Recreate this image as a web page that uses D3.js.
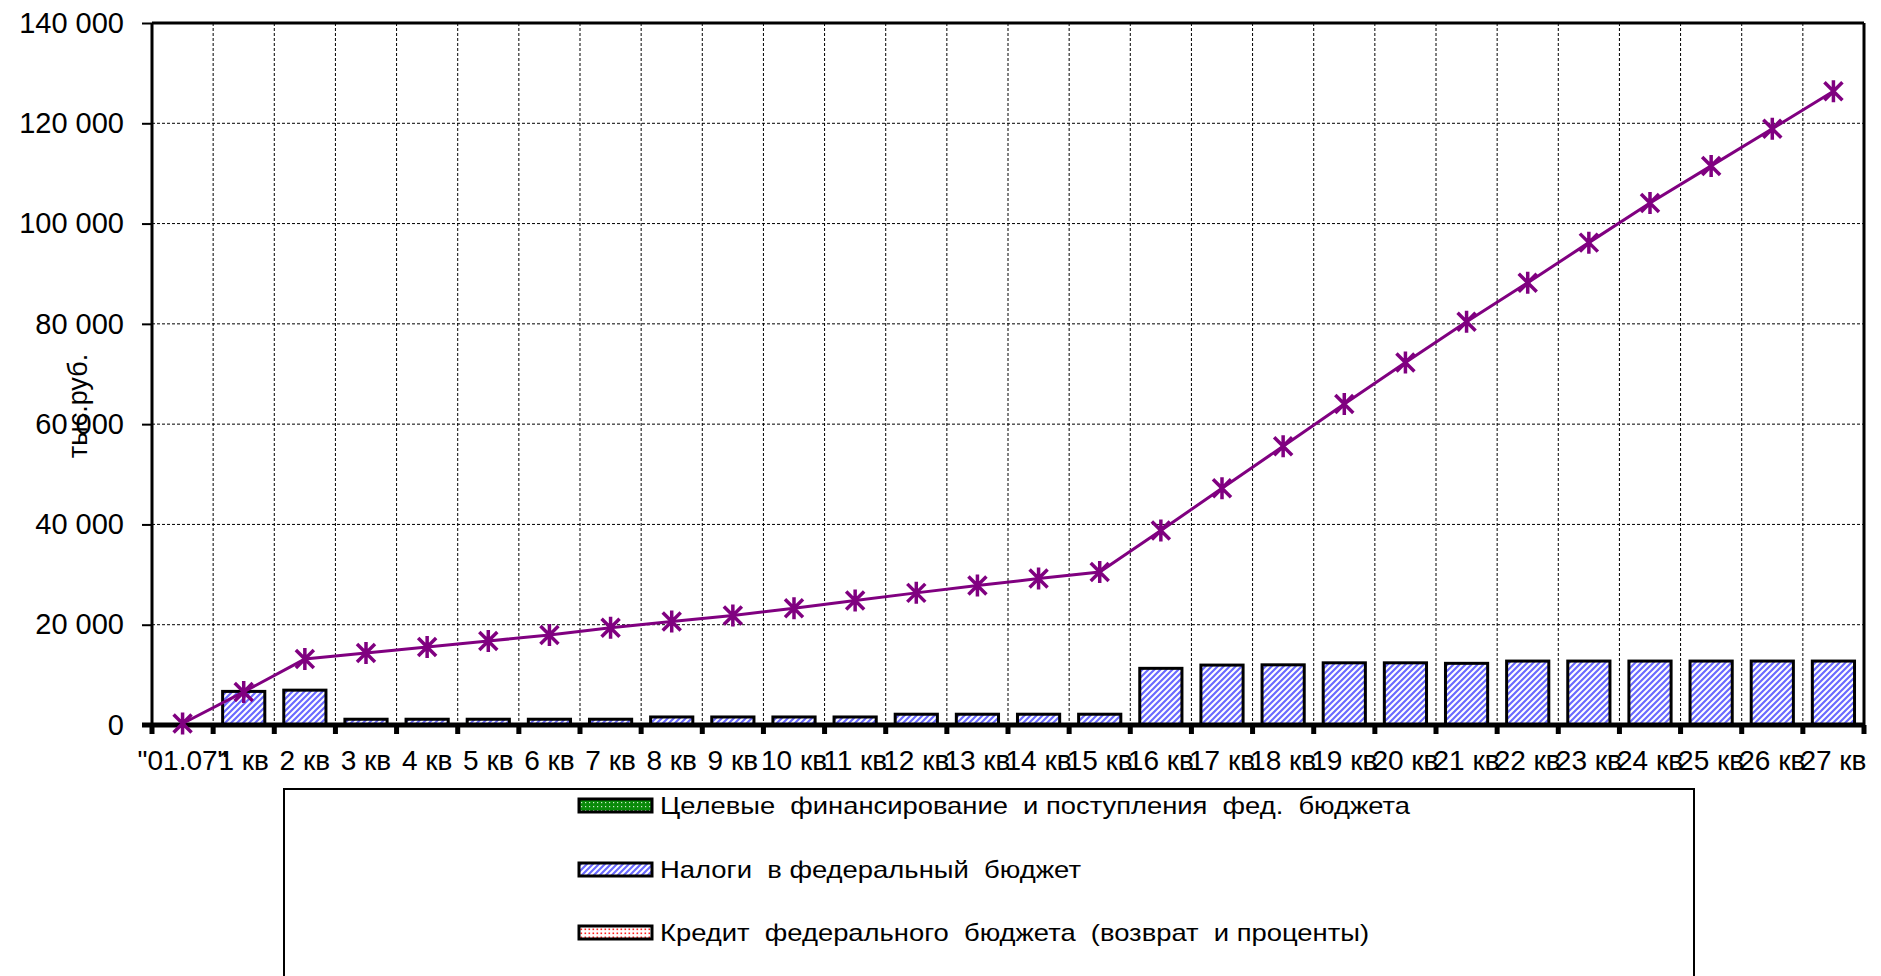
<!DOCTYPE html>
<html><head><meta charset="utf-8">
<script src="https://cdn.jsdelivr.net/npm/d3@7"></script>
<style>
html,body{margin:0;padding:0;background:#fff;}
svg{display:block;}
</style></head>
<body>
<svg id="c" width="1881" height="976"></svg>
<script>
const categories = ['"01.07"','1 кв','2 кв','3 кв','4 кв','5 кв','6 кв','7 кв','8 кв','9 кв','10 кв','11 кв','12 кв','13 кв','14 кв','15 кв','16 кв','17 кв','18 кв','19 кв','20 кв','21 кв','22 кв','23 кв','24 кв','25 кв','26 кв','27 кв'];
const targetFunding = [0,0,0,0,0,0,0,0,0,0,0,0,0,0,0,0,0,0,0,0,0,0,0,0,0,0,0,0];
const taxes = [0,6700,6950,1150,1150,1150,1150,1150,1600,1600,1600,1600,2150,2150,2150,2150,11300,11950,12000,12400,12400,12300,12750,12750,12750,12750,12750,12750];
const credit = [0,0,0,0,0,0,0,0,0,0,0,0,0,0,0,0,0,0,0,0,0,0,0,0,0,0,0,0];
const cumulative = [300,6600,13150,14350,15550,16750,17950,19400,20650,21850,23300,24850,26350,27800,29200,30500,38800,47200,55600,64000,72300,80400,88200,96200,104100,111500,118900,126400];
const yTicks = [0,20000,40000,60000,80000,100000,120000,140000];
const legendLabels = ['Целевые  финансирование  и поступления  фед.  бюджета','Налоги  в федеральный  бюджет','Кредит  федерального  бюджета  (возврат  и проценты)'];

const svg = d3.select('#c');
const L=152, R=1864, T=23, B=725;
const x = d3.scaleBand().domain(categories).range([L,R]).paddingInner(0.31).paddingOuter(0.155);
const xOuter = d3.scaleBand().domain(categories).range([L,R]);
const y = d3.scaleLinear().domain([0,140000]).range([B,T]);
const loc = d3.formatLocale({decimal:",",thousands:" ",grouping:[3],currency:["",""]});
const fmt = loc.format(",d");

// patterns
const defs = svg.append('defs');
const pBlue = defs.append('pattern').attr('id','pBlue').attr('patternUnits','userSpaceOnUse').attr('width',6).attr('height',6);
pBlue.append('rect').attr('width',6).attr('height',6).attr('fill','#fff');
pBlue.append('path').attr('d','M-1,7 L7,-1 M-4,4 L4,-4 M2,10 L10,2').attr('stroke','#6a6aff').attr('stroke-width',2.2);
const pGreen = defs.append('pattern').attr('id','pGreen').attr('patternUnits','userSpaceOnUse').attr('width',4).attr('height',4);
pGreen.append('rect').attr('width',4).attr('height',4).attr('fill','#0a8a0a');
pGreen.append('rect').attr('x',1).attr('y',1).attr('width',1.2).attr('height',1.2).attr('fill','#cfeccf');
const pRed = defs.append('pattern').attr('id','pRed').attr('patternUnits','userSpaceOnUse').attr('width',4).attr('height',4);
pRed.append('rect').attr('width',4).attr('height',4).attr('fill','#fff');
pRed.append('rect').attr('x',0.5).attr('y',0.5).attr('width',1.6).attr('height',1.6).attr('fill','#ff2020');

// grid
const g = svg.append('g');
g.selectAll('.hg').data(yTicks.filter(d=>d>0 && d<140000)).enter().append('line')
  .attr('x1',L).attr('x2',R).attr('y1',d=>y(d)).attr('y2',d=>y(d))
  .attr('stroke','#000').attr('stroke-width',1).attr('stroke-dasharray','3,2');
g.selectAll('.vg').data(categories.slice(1)).enter().append('line')
  .attr('x1',d=>xOuter(d)).attr('x2',d=>xOuter(d)).attr('y1',T).attr('y2',B)
  .attr('stroke','#000').attr('stroke-width',1).attr('stroke-dasharray','3,2');

// stacked bars
const rows = categories.map((c,i)=>({cat:c, a:targetFunding[i], b:taxes[i], c2:credit[i]}));
const stack = d3.stack().keys(['a','b','c2'])(rows);
const fills = {a:'url(#pGreen)', b:'url(#pBlue)', c2:'url(#pRed)'};
stack.forEach(s=>{
  svg.append('g').selectAll('rect').data(s.filter(d=>d[1]-d[0]>0)).enter().append('rect')
    .attr('x',d=>x(d.data.cat)).attr('width',x.bandwidth())
    .attr('y',d=>y(d[1])).attr('height',d=>y(d[0])-y(d[1]))
    .attr('fill',fills[s.key]).attr('stroke','#000').attr('stroke-width',3);
});

// frame top/right
svg.append('line').attr('x1',L).attr('x2',R).attr('y1',T).attr('y2',T).attr('stroke','#000').attr('stroke-width',3);
svg.append('line').attr('x1',R).attr('x2',R).attr('y1',T).attr('y2',B).attr('stroke','#000').attr('stroke-width',3);

// y axis
const ya = svg.append('g').attr('transform',`translate(${L},0)`)
  .call(d3.axisLeft(y).tickValues(yTicks).tickFormat(fmt).tickSize(10).tickPadding(18));
ya.select('.domain').attr('stroke','#000').attr('stroke-width',3).attr('d',`M0,${T}V${B}`);
ya.selectAll('.tick line').attr('stroke','#000').attr('stroke-width',2);
ya.selectAll('text').attr('font-family','Liberation Sans, Arial, sans-serif').attr('font-size',29).attr('fill','#000');

// x axis
const xa = svg.append('g').attr('transform',`translate(0,${B})`)
  .call(d3.axisBottom(xOuter).tickSize(0).tickPadding(25));
xa.select('.domain').remove();
xa.selectAll('text').attr('font-family','Liberation Sans, Arial, sans-serif').attr('font-size',28).attr('fill','#000');
svg.append('line').attr('x1',L-10).attr('x2',R).attr('y1',B).attr('y2',B).attr('stroke','#000').attr('stroke-width',5);
svg.append('g').selectAll('rect').data(categories.concat(['__end'])).enter().append('rect')
  .attr('x',(d,i)=> (i<categories.length? xOuter(d): R) - 2.5).attr('y',B).attr('width',5).attr('height',9).attr('fill','#000');

// y label
svg.append('text').attr('transform','translate(87,406) rotate(-90)').attr('text-anchor','middle')
  .attr('font-family','Liberation Sans, Arial, sans-serif').attr('font-size',27).attr('fill','#000').text('тыс.руб.');

// line
const cx = d=>xOuter(d)+xOuter.bandwidth()/2;
svg.append('path').datum(cumulative)
  .attr('d', d3.line().x((d,i)=>cx(categories[i])).y(d=>y(d)))
  .attr('fill','none').attr('stroke','#800080').attr('stroke-width',3);
const ms = 9;
svg.append('g').selectAll('path').data(cumulative).enter().append('path')
  .attr('transform',(d,i)=>`translate(${cx(categories[i])},${y(d)})`)
  .attr('d',`M${-ms},${-ms}L${ms},${ms}M${-ms},${ms}L${ms},${-ms}M0,${-ms-2}L0,${ms+2}`)
  .attr('stroke','#800080').attr('stroke-width',3.5).attr('fill','none');

// legend
svg.append('rect').attr('x',284).attr('y',789).attr('width',1410).attr('height',200)
  .attr('fill','#fff').attr('stroke','#000').attr('stroke-width',2);
const lf = ['url(#pGreen)','url(#pBlue)','url(#pRed)'];
const ly = [805,869,932];
const lw = [750,421,709];
const lg = svg.append('g').selectAll('g').data(legendLabels).enter().append('g')
  .attr('transform',(d,i)=>`translate(0,${ly[i]})`);
lg.append('rect').attr('x',579).attr('y',-6).attr('width',73).attr('height',13)
  .attr('fill',(d,i)=>lf[i]).attr('stroke','#000').attr('stroke-width',3);
lg.append('text').attr('x',660).attr('y',9).attr('font-family','Liberation Sans, Arial, sans-serif')
  .attr('font-size',24).attr('fill','#000').attr('xml:space','preserve').style('white-space','pre')
  .attr('textLength',(d,i)=>lw[i]).attr('lengthAdjust','spacingAndGlyphs').text(d=>d);
</script>
</body></html>
